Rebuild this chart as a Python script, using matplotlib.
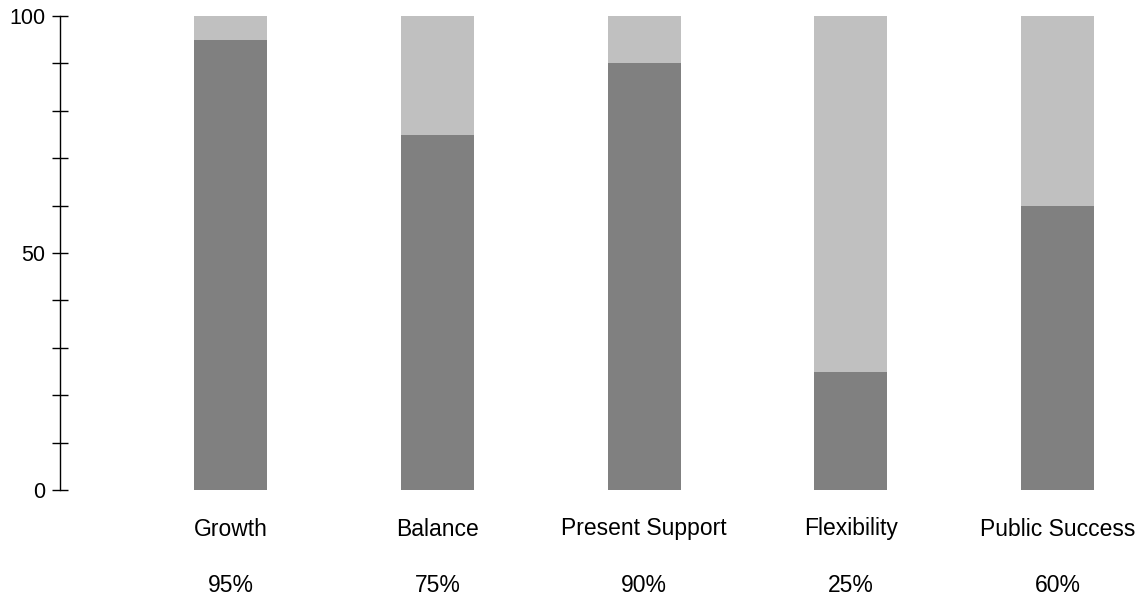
import matplotlib.pyplot as plt
from matplotlib.ticker import MultipleLocator
import matplotlib.transforms as mtransforms

plt.rcParams['font.family'] = ['Liberation Sans', 'DejaVu Sans']

# data
categories = ['Growth', 'Balance', 'Present Support', 'Flexibility', 'Public Success']
scores = [95, 75, 90, 25, 60]
rest = [100 - s for s in scores]
pct_labels = ['95%', '75%', '90%', '25%', '60%']

dark = '#808080'
light = '#c0c0c0'

fig = plt.figure(figsize=(11.44, 5.99), dpi=100)
ax = fig.add_axes([60 / 1144, 1 - 490 / 599, 1 - 60 / 1144, (490 - 16) / 599])

x = list(range(len(categories)))
ax.bar(x, scores, width=0.353, color=dark)
ax.bar(x, rest, width=0.353, bottom=scores, color=light)

ax.set_xlim(-0.825, 4.418)
ax.set_ylim(0, 100)

# axis styling
for s in ['top', 'right', 'bottom']:
    ax.spines[s].set_visible(False)
ax.spines['left'].set_linewidth(1.0)
ax.set_xticks([])
ax.yaxis.set_major_locator(MultipleLocator(50))
ax.yaxis.set_minor_locator(MultipleLocator(10))
ax.tick_params(axis='y', which='both', direction='inout', length=11, width=1.0, pad=5)
ax.tick_params(axis='y', which='major', labelsize=15.5)

# labels under the bars
trans = mtransforms.blended_transform_factory(ax.transData, ax.transAxes)
for i in x:
    ax.text(i, -39 / 474, categories[i], transform=trans, ha='center', va='center', fontsize=16.5)
    ax.text(i, -96 / 474, pct_labels[i], transform=trans, ha='center', va='center', fontsize=16.5)

plt.savefig('out.png', dpi=100)
